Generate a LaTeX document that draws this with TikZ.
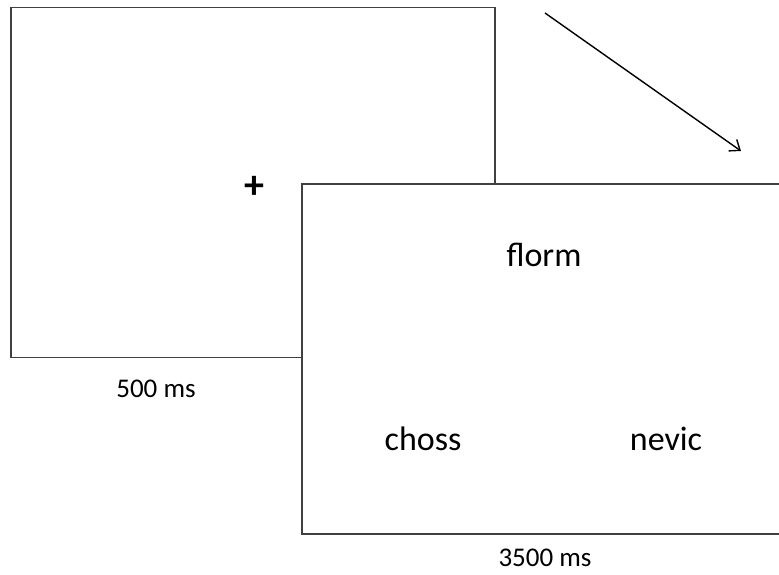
\documentclass[tikz,border=0pt]{standalone}
\usepackage{fontspec}
\setmainfont{Carlito}
\usetikzlibrary{arrows.meta}
\definecolor{frameline}{HTML}{404040}
\begin{document}
\begin{tikzpicture}[x=1pt,y=-1pt,
  slide/.style={draw=frameline,line width=1.6pt,fill=white,rectangle,minimum width=484pt,minimum height=350pt,inner sep=0pt},
  word/.style={font=\fontsize{34}{40}\selectfont,anchor=base,inner sep=0pt},
  cross/.style={font=\fontsize{40}{46}\selectfont\bfseries,anchor=center,inner sep=0pt},
  dur/.style={font=\fontsize{27}{32}\selectfont,anchor=base,inner sep=0pt}]
\useasboundingbox (0,0) rectangle (779,574);
\clip (0,0) rectangle (779,574);
\node[slide] (s1) at (253,182.5) {};
\node[cross] (plus) at (254,187) {+};
\node[slide] (s2) at (544,359) {};
\node[word] (florm) at (544,266) {florm};
\node[word] (choss) at (423,450) {choss};
\node[word] (nevic) at (666,450) {nevic};
\node[dur] (d1) at (156,397) {500 ms};
\node[dur] (d2) at (545,566) {3500 ms};
\coordinate (a1) at (545,13);
\coordinate (a2) at (741,151);
\draw[line width=1.4pt,-{Straight Barb[length=9pt,width=14pt]}] (a1) -- (a2);
\end{tikzpicture}
\end{document}
